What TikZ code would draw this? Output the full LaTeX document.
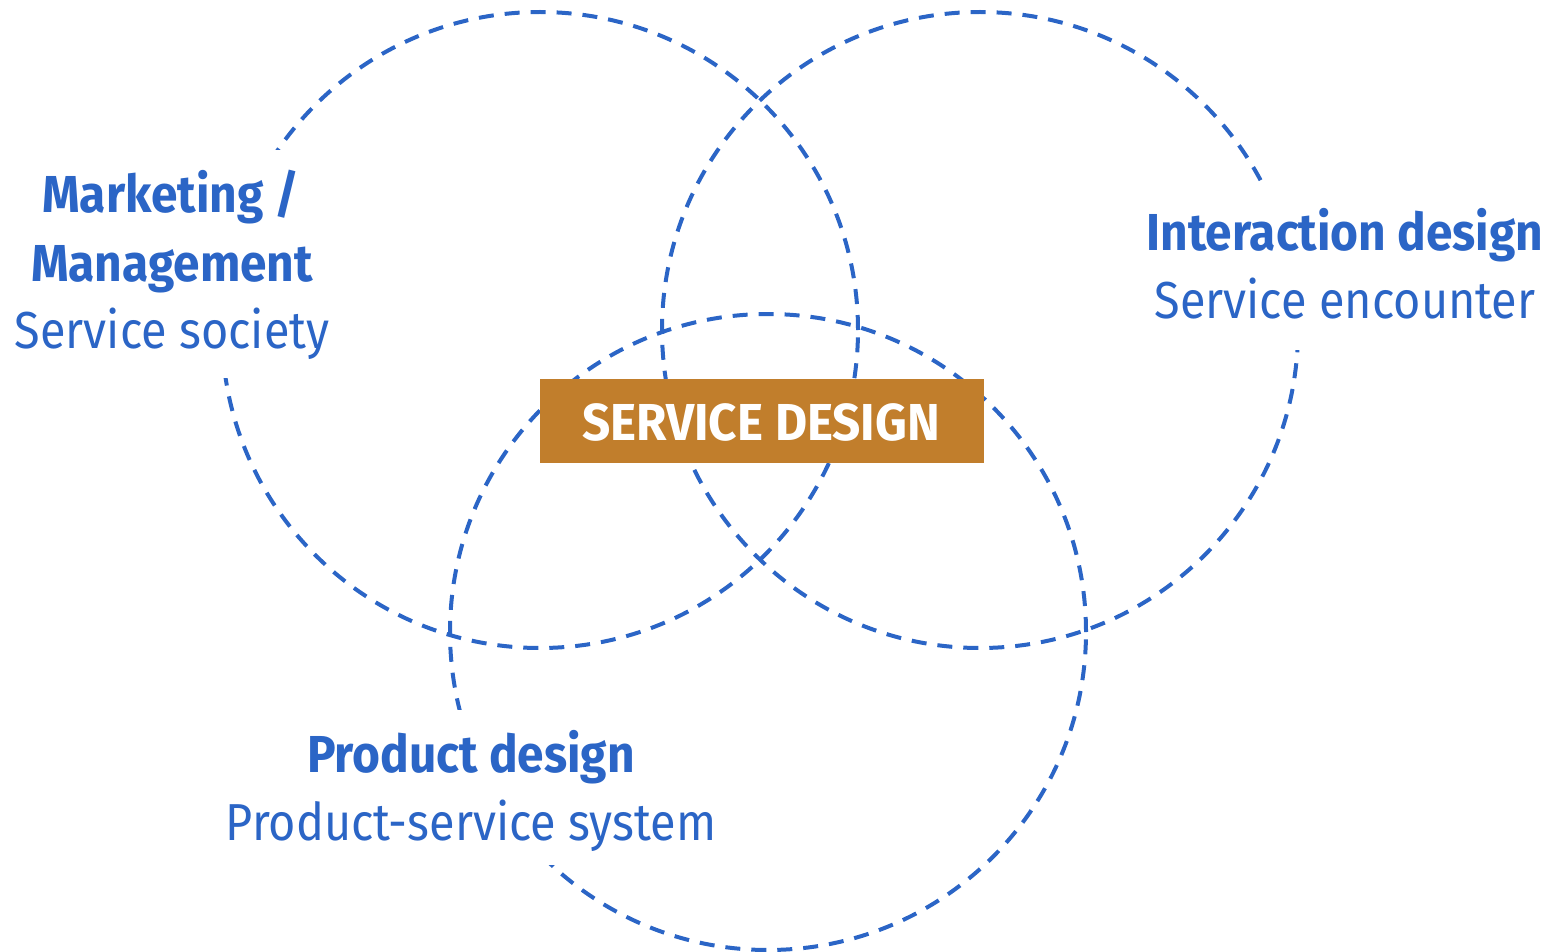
\documentclass[tikz,border=0pt]{standalone}
\usepackage{fontspec}
\setmainfont{Fira Sans}[FakeStretch=0.9, BoldFeatures={FakeStretch=0.92}]
\newfontfamily\sdfont{Fira Sans}[FakeStretch=0.95]
\definecolor{vblue}{RGB}{43,101,198}
\definecolor{sdorange}{RGB}{193,126,44}
\begin{document}
\begin{tikzpicture}[x=1pt,y=-1pt,
  ring/.style={draw=vblue, line width=4pt, dash pattern=on 15pt off 11pt},
  head/.style={text=vblue, font=\fontsize{52}{60}\selectfont\bfseries, anchor=base, inner sep=0pt},
  sub/.style={text=vblue, font=\fontsize{52}{60}\selectfont, anchor=base, inner sep=0pt},
  mask/.style={fill=white}]
\useasboundingbox (0,0) rectangle (1557,952);
\draw[ring] (540,330) circle[radius=318pt];
\draw[ring] (980,330) circle[radius=318pt];
\draw[ring] (768,632) circle[radius=318pt];
\fill[mask] (0,150) rectangle (340,378);
\fill[mask] (1140,185) rectangle (1557,350);
\fill[mask] (200,710) rectangle (740,865);
\node[head] (mk1) at (171,212) {Marketing /};
\node[head] (mk2) at (172,281) {Management};
\node[sub]  (mk3) at (172,348) {Service society};
\node[head] (ix1) at (1345,250) {Interaction design};
\node[sub]  (ix2) at (1345,318) {Service encounter};
\node[head] (pd1) at (471,772) {Product design};
\node[sub]  (pd2) at (471,840) {Product-service system};
\node[fill=sdorange, minimum width=444pt, minimum height=84pt, inner sep=0pt] (sd) at (762,421) {};
\node[text=white, font=\fontsize{52}{60}\selectfont\sdfont\bfseries, anchor=base, inner sep=0pt] (sdt) at (761,440) {SERVICE DESIGN};
\end{tikzpicture}
\end{document}
